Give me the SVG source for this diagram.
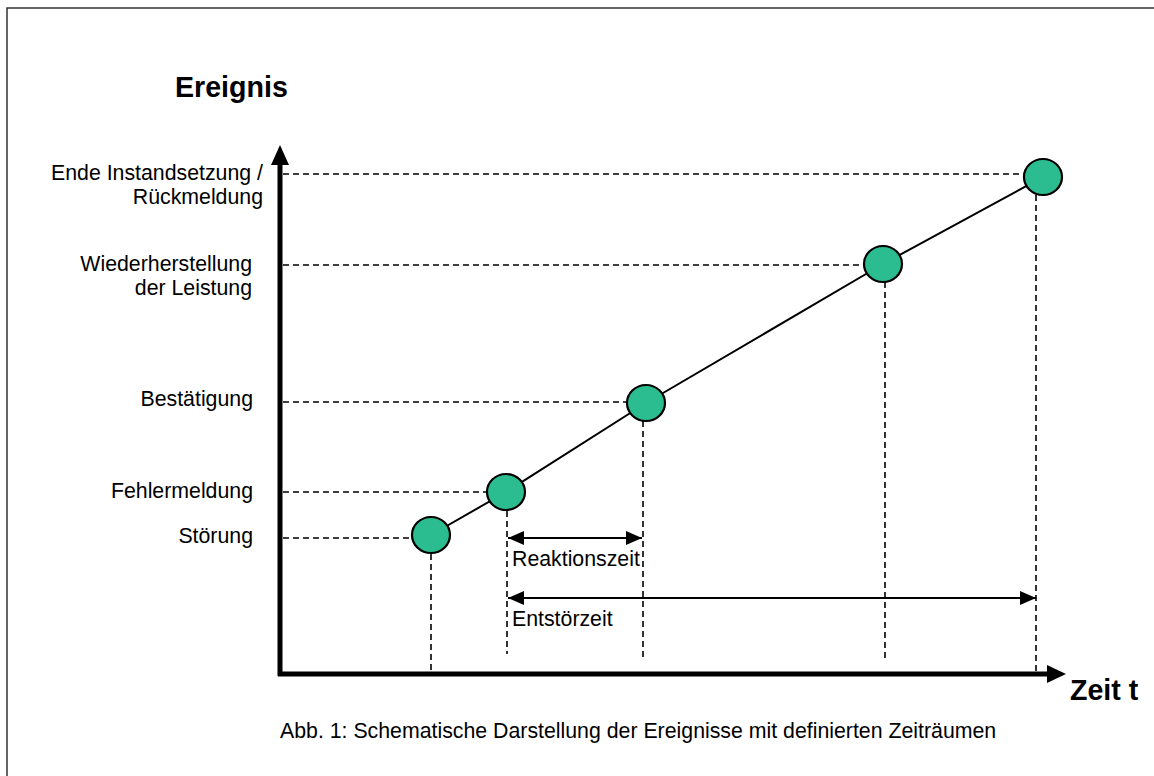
<svg xmlns="http://www.w3.org/2000/svg" width="1154" height="776" viewBox="0 0 1154 776">
  <style>
    .lbl { font-family: "Liberation Sans", Arial, sans-serif; font-size: 21.3px; fill: #000; }
    .end { text-anchor: end; }
    .title { font-family: "Liberation Sans", Arial, sans-serif; font-size: 28.6px; font-weight: bold; fill: #000; }
    .dash { stroke: #000; stroke-width: 1.6; stroke-dasharray: 6 4; fill: none; }
    .axis { stroke: #000; stroke-width: 5; fill: none; }
    .node { fill: #2bbc90; stroke: #000; stroke-width: 2.2; }
    .span { stroke: #000; stroke-width: 2; fill: none; }
  </style>
  <defs>
    <marker id="ah" markerUnits="userSpaceOnUse" markerWidth="16" markerHeight="14" refX="16" refY="7" orient="auto-start-reverse">
      <path d="M0,0 L16,7 L0,14 Z" fill="#000"/>
    </marker>
  </defs>
  <rect x="0" y="0" width="1154" height="776" fill="#fff"/>
  <rect x="7" y="8" width="1160" height="790" fill="none" stroke="#333" stroke-width="1.5"/>

  <g id="axes">
    <line class="axis" x1="280" y1="676" x2="280" y2="160"/>
    <polygon points="280,145 271,165 289,165" fill="#000"/>
    <line class="axis" x1="278" y1="674" x2="1050" y2="674"/>
    <polygon points="1066,674 1047,665 1047,683" fill="#000"/>
    <text class="title" x="175" y="97">Ereignis</text>
    <text class="title" x="1070" y="700">Zeit t</text>
  </g>

  <g id="connectors">
    <polyline class="span" points="431,535 506,492 646,403 883,264 1043,177"/>
    <line class="dash" x1="283" y1="174" x2="1024" y2="174"/>
    <line class="dash" x1="283" y1="265" x2="864" y2="265"/>
    <line class="dash" x1="283" y1="402" x2="627" y2="402"/>
    <line class="dash" x1="283" y1="492" x2="487" y2="492"/>
    <line class="dash" x1="283" y1="538" x2="412" y2="538"/>
    <line class="dash" x1="431" y1="554" x2="431" y2="672"/>
    <line class="dash" x1="507" y1="511" x2="507" y2="654"/>
    <line class="dash" x1="643" y1="421" x2="643" y2="660"/>
    <line class="dash" x1="885" y1="282" x2="885" y2="660"/>
    <line class="dash" x1="1036" y1="195" x2="1036" y2="671"/>
    <line class="span" x1="508" y1="538" x2="642" y2="538" marker-start="url(#ah)" marker-end="url(#ah)"/>
    <line class="span" x1="508" y1="598" x2="1036" y2="598" stroke-width="1.6" marker-start="url(#ah)" marker-end="url(#ah)"/>
  </g>

  <g id="stoerung">
    <ellipse class="node" cx="431" cy="535" rx="19" ry="18"/>
    <text class="lbl end" x="253" y="543">Störung</text>
  </g>
  <g id="fehlermeldung">
    <ellipse class="node" cx="506" cy="492" rx="19" ry="18"/>
    <text class="lbl end" x="253" y="498">Fehlermeldung</text>
  </g>
  <g id="bestaetigung">
    <ellipse class="node" cx="646" cy="403" rx="19" ry="18"/>
    <text class="lbl end" x="253" y="406">Bestätigung</text>
  </g>
  <g id="wiederherstellung">
    <ellipse class="node" cx="883" cy="264" rx="19" ry="18"/>
    <text class="lbl end" x="252" y="271">Wiederherstellung</text>
    <text class="lbl end" x="252" y="295">der Leistung</text>
  </g>
  <g id="ende">
    <ellipse class="node" cx="1043" cy="177" rx="19" ry="18"/>
    <text class="lbl end" x="263" y="180">Ende Instandsetzung /</text>
    <text class="lbl end" x="263" y="204">Rückmeldung</text>
  </g>
  <g id="reaktionszeit">
    <text class="lbl" x="512" y="566">Reaktionszeit</text>
  </g>
  <g id="entstoerzeit">
    <text class="lbl" x="512" y="626">Entstörzeit</text>
  </g>
  <g id="caption">
    <text class="lbl" x="280" y="738">Abb. 1: Schematische Darstellung der Ereignisse mit definierten Zeiträumen</text>
  </g>
</svg>
